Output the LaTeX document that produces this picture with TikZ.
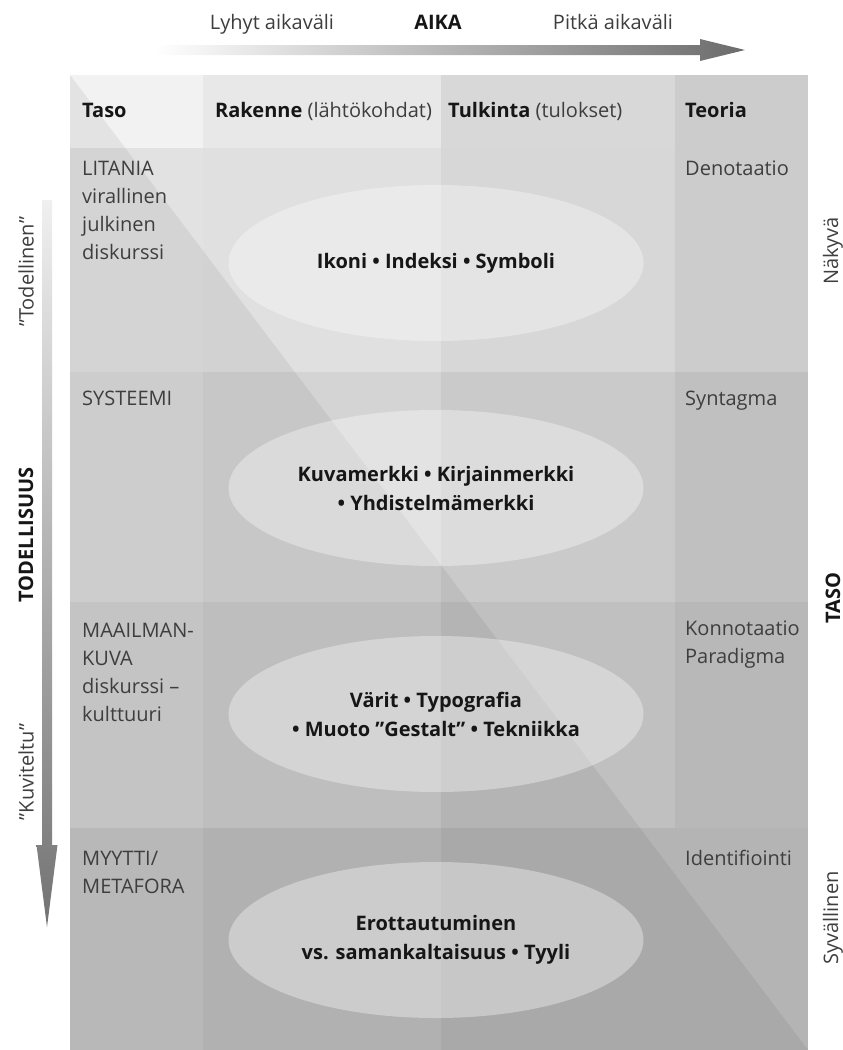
\documentclass[tikz,border=0pt]{standalone}
\usepackage{fontspec}
\setmainfont{Open Sans}
\usetikzlibrary{shapes.geometric}
\definecolor{txt}{RGB}{62,62,62}
\definecolor{txtb}{RGB}{22,22,22}
\begin{document}
\begin{tikzpicture}[x=1pt,y=-1pt,
  lbl/.style={inner sep=0pt, font=\fontsize{20}{28}\selectfont, text=txt, align=left, anchor=base west},
  hdr/.style={inner sep=0pt, font=\fontsize{20}{28}\selectfont, text=txt, anchor=base west},
  side/.style={inner sep=0pt, font=\fontsize{20}{28}\selectfont, text=txt, rotate=90},
  sideb/.style={inner sep=0pt, font=\fontsize{20}{28}\selectfont\bfseries, text=txtb, rotate=90},
  ell/.style={ellipse, inner sep=0pt, minimum width=415pt, minimum height=156pt,
    fill=white, fill opacity=0.35, text opacity=1, text=txtb,
    font=\fontsize{20}{29}\selectfont\bfseries, align=center}]
\useasboundingbox (0,0) rectangle (843,1050);
% ---- grid of shaded cells
% header
\fill[black!5]    (70,75)  rectangle (203,148);
\fill[black!9]    (203,75) rectangle (441,148);
\fill[black!15.3] (441,75) rectangle (675,148);
\fill[black!20]   (675,75) rectangle (808,148);
% row 1
\fill[black!11.4] (70,148)  rectangle (203,372);
\fill[black!12.2] (203,148) rectangle (441,372);
\fill[black!15.7] (441,148) rectangle (675,372);
\fill[black!20]   (675,148) rectangle (808,372);
% row 2
\fill[black!14.5] (70,372)  rectangle (203,602);
\fill[black!16.9] (203,372) rectangle (441,602);
\fill[black!20.8] (441,372) rectangle (675,602);
\fill[black!24.7] (675,372) rectangle (808,602);
% row 3
\fill[black!18]   (70,602)  rectangle (203,828);
\fill[black!20.8] (203,602) rectangle (441,828);
\fill[black!24.7] (441,602) rectangle (675,828);
\fill[black!27.8] (675,602) rectangle (808,828);
% row 4
\fill[black!23.1] (70,828)  rectangle (203,1050);
\fill[black!25.9] (203,828) rectangle (441,1050);
\fill[black!29.4] (441,828) rectangle (675,1050);
\fill[black!29.4] (675,828) rectangle (808,1050);
% diagonal darker triangle
\fill[black, opacity=0.06] (70,75) -- (808,1050) -- (70,1050) -- cycle;

% ---- top time arrow
\coordinate (hs) at (155,50);
\coordinate (he) at (745,50);
\shade[left color=white, right color=black!58]
  (155,45) -- (700,45) -- (700,39) -- (he) -- (700,61) -- (700,55) -- (155,55) -- cycle;
\node[hdr, anchor=base] (lyhyt) at (272,29) {Lyhyt aikaväli};
\node[hdr, anchor=base, font=\fontsize{20}{28}\selectfont\bfseries, text=txtb] (aika) at (438,29) {AIKA};
\node[hdr, anchor=base] (pitka) at (613,29) {Pitkä aikaväli};

% ---- left vertical arrow
\coordinate (vs) at (47,200);
\coordinate (ve) at (47,927);
\shade[top color=black!6, bottom color=black!55]
  (42,200) -- (52,200) -- (52,845) -- (57.5,845) -- (ve) -- (36.5,845) -- (42,845) -- cycle;
\node[side]  (todellinen) at (26,272) {”Todellinen”};
\node[sideb] (todellisuus) at (26,535) {TODELLISUUS};
\node[side]  (kuviteltu) at (26,772) {”Kuviteltu”};

% ---- right side labels
\node[side]  (nakyva) at (833,251) {Näkyvä};
\node[sideb] (taso2) at (833,598) {TASO};
\node[side]  (syvallinen) at (833,918) {Syvällinen};

% ---- header texts
\node[hdr, text=txtb, font=\fontsize{20}{28}\selectfont\bfseries] (htaso) at (82,117) {Taso};
\node[hdr] (hrak) at (215,117) {\textbf{\color{txtb}Rakenne} (lähtökohdat)};
\node[hdr] (htul) at (448,117) {\textbf{\color{txtb}Tulkinta} (tulokset)};
\node[hdr, text=txtb, font=\fontsize{20}{28}\selectfont\bfseries] (hteo) at (685,117) {Teoria};

% ---- left column (base = baseline of last line)
\node[lbl] (litania) at (82,259) {LITANIA\\virallinen\\julkinen\\diskurssi};
\node[lbl] (systeemi) at (82,405) {SYSTEEMI};
\node[lbl] (maailman) at (82,721) {MAAILMAN-\\KUVA\\diskurssi –\\kulttuuri};
\node[lbl] (myytti) at (82,893) {MYYTTI/\\METAFORA};

% ---- right column
\node[lbl] (denot) at (685,175) {Denotaatio};
\node[lbl] (syntagma) at (685,405) {Syntagma};
\node[lbl] (konnot) at (685,663) {Konnotaatio\\Paradigma};
\node[lbl] (ident) at (685,865) {Identifiointi};

% ---- ellipses
\node[ell] (e1) at (436,263) {Ikoni • Indeksi • Symboli};
\node[ell] (e2) at (436,488) {Kuvamerkki • Kirjainmerkki\\• Yhdistelmämerkki};
\node[ell] (e3) at (436,714) {Värit • Typografia\\• Muoto ”Gestalt” • Tekniikka};
\node[ell] (e4) at (436,940) {Erottautuminen\\vs. samankaltaisuus • Tyyli};
\end{tikzpicture}
\end{document}
